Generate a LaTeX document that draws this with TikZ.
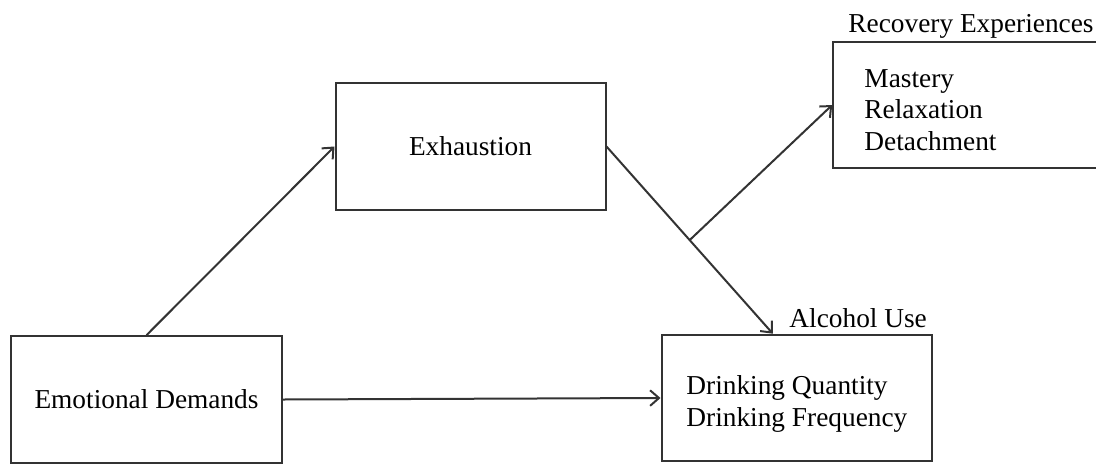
\documentclass[tikz,border=0pt]{standalone}
\usepackage{fontspec}
\setmainfont{Liberation Serif}
\usetikzlibrary{arrows.meta, calc}
\tikzset{box/.style = {draw=black!80, line width=0.9pt, minimum width=121.5pt, minimum height=57pt, inner sep=0pt}}
\tikzset{lbl/.style = {font=\fontsize{12.3}{14.2}\selectfont, inner sep=0pt}}
\tikzset{>={Straight Barb[length=4pt, width=7pt]}}

\begin{document}
\begin{tikzpicture}[x=0.45pt, y=-0.45pt]
\useasboundingbox (0,0) rectangle (1096,464);
\clip (0,0) rectangle (1096,464);
\node [box, lbl] (emo) at (146.5,399.5) {Emotional Demands};
\node [box, lbl] (exh) at (470.5,146.5) {Exhaustion};
\node [box] (drink) at (796.5,398) {};
\node [box, minimum width=120pt] (rec) at (966.5,105) {};
\node [lbl, align=left, anchor=west] (drinklist) at (686,404) {Drinking Quantity\\Drinking Frequency};
\node [lbl, align=left, anchor=west] (reclist) at (864,110) {Mastery\\Relaxation\\Detachment};
\node [lbl, anchor=west] (alc) at (789,318) {Alcohol Use};
\node [lbl, anchor=west] (recl) at (848,26) {Recovery Experiences};
\coordinate (hit) at ($(drink.north west)!0.413!(drink.north east)$);
\coordinate (mod) at ($(exh.east)!0.5!(hit)$);
\draw [->, line width=0.9pt, black!80] (emo.north) -- (exh.west);
\draw [->, line width=0.9pt, black!80] (emo.east) -- (drink.west);
\draw [->, line width=0.9pt, black!80] (exh.east) -- (hit);
\draw [->, line width=0.9pt, black!80] (mod) -- (rec.west);
\end{tikzpicture}
\end{document}
